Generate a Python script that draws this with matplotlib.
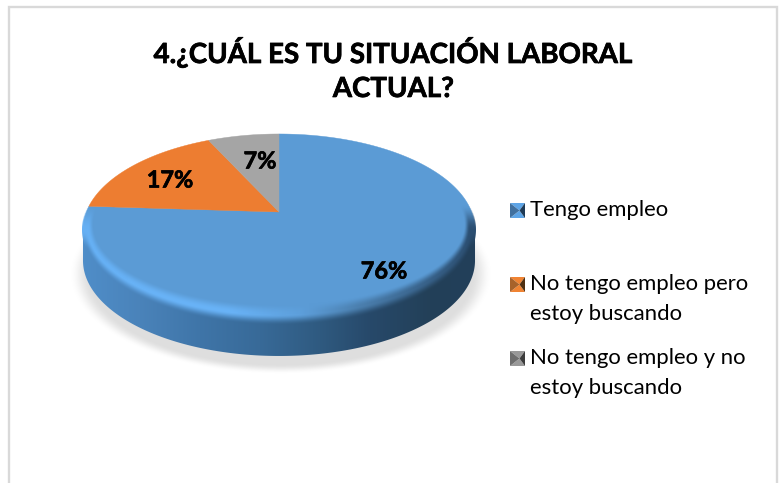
import numpy as np
import matplotlib
matplotlib.use("Agg")
import matplotlib.pyplot as plt
import matplotlib.patheffects as pe
from matplotlib.colors import to_rgb
from matplotlib.patches import Polygon

# ---- data ----
title_lines = ["4.¿CUÁL ES TU SITUACIÓN LABORAL", "ACTUAL?"]
categories = [["Tengo empleo"],
              ["No tengo empleo pero", "estoy buscando"],
              ["No tengo empleo y no", "estoy buscando"]]
values = [76, 17, 7]
face_colors = ["#5b9bd5", "#ed7d31", "#a5a5a5"]
marker_shades = [("#5da4e6", "#40709f", "#1e3a56"),
                 ("#f08332", "#a8622a", "#4f2f10"),
                 ("#999999", "#6e6e6e", "#3c3c3c")]

# ---- layout (pixels) ----
W, H = 781, 483
CX, APEX_Y = 279.0, 212.0
A, B, K = 192.7, 92.3, 0.183
DEPTH = 31
FONT = ["Lato", "DejaVu Sans"]
PT = 0.72
THICK = [pe.withStroke(linewidth=0.5, foreground="black")]

fig = plt.figure(figsize=(W / 100, H / 100), dpi=100)
ax = fig.add_axes([0, 0, 1, 1])
ax.set_xlim(0, W)
ax.set_ylim(H, 0)
ax.axis("off")

XX, YY = np.meshgrid(np.arange(W) + .5, np.arange(H) + .5)


def project(theta):
    """Perspective view of the unit circle; theta runs clockwise from north."""
    x, y = np.sin(theta), np.cos(theta)
    d = 1 + K * y
    return CX + A * x / d, APEX_Y - B * y / d


def smooth(t):
    t = np.clip(t, 0, 1)
    return t * t * (3 - 2 * t)


def ramp(xs, colors):
    out = np.zeros(XX.shape + (3,))
    for i in range(3):
        out[..., i] = np.interp(XX, xs, [to_rgb(c)[i] for c in colors])
    return out


def show(rgba, clip=None, zorder=2):
    im = ax.imshow(rgba, extent=(0, W, H, 0), interpolation="bilinear", zorder=zorder, aspect="auto")
    if clip is not None:
        im.set_clip_path(clip)
    ax.set_xlim(0, W)
    ax.set_ylim(H, 0)
    return im


# frame (open at the bottom)
ax.plot([8.5, 8.5, 776.5, 776.5], [H, 7, 7, H], color="#d9d9d9", lw=1.7, zorder=1,
        solid_joinstyle="miter")

# soft shadow
r = np.hypot((XX - 281) / 207, (YY - 274) / 98)
shadow = np.zeros((H, W, 4))
shadow[..., :3] = 0.83
shadow[..., 3] = 0.75 * (1 - smooth((r - 0.92) / 0.10))
show(shadow)

# side wall
t_all = np.linspace(0, 2 * np.pi, 721)
ox, oy = project(t_all)
cy_face = (oy.min() + oy.max()) / 2
rx_face = (ox.max() - ox.min()) / 2
ry_face = (oy.max() - oy.min()) / 2
arc = np.linspace(0, np.pi, 361)
top_x = CX + rx_face * np.cos(arc)
bot_y = cy_face + DEPTH + ry_face * np.sin(arc)
up_y = cy_face + ry_face * np.sin(arc)
side_poly = np.column_stack([np.r_[top_x, top_x[::-1]], np.r_[bot_y, up_y[::-1]]])
side_patch = Polygon(side_poly, closed=True, transform=ax.transData)

stops_x = [85, 140, 200, 260, 320, 370, 430, 473]
stops_c = ["#4f8dc8", "#4a83ba", "#3f75a8", "#386a98", "#2f5a80", "#27496a", "#234058", "#223f5a"]
side_rgb = ramp(stops_x, stops_c)
side = np.ones((H, W, 4))
side[..., :3] = side_rgb
show(side, side_patch)

# top face: one slice per value
fractions = np.cumsum([0] + values) / sum(values)
face_xy = np.column_stack(project(t_all))
for v, c, f0, f1 in zip(values, face_colors, fractions[:-1], fractions[1:]):
    th = np.linspace(f0, f1, 200) * 2 * np.pi
    px, py = project(th)
    ax.fill(np.r_[CX, px], np.r_[APEX_Y, py], color=c, lw=0.3, zorder=3)

# bevel along the front rim of the face: rises to a highlight, then melts into the wall
r_in = np.hypot((XX - CX) / (rx_face - 11), (YY - (cy_face - 5)) / (ry_face - 16))
r_out = np.hypot((XX - CX) / rx_face, (YY - cy_face) / ry_face)
t = np.clip((r_in - 1) / np.maximum(r_in - r_out, 1e-3), 0, 1)
t[r_in <= 1] = 0
hi = ramp([85, 150, 230, 300, 360, 470],
          ["#66b0f4", "#69b3f7", "#69b3f7", "#5ea0dc", "#4b7fae", "#2c4f72"])
mix = smooth((t - 0.55) / 0.45)[..., None] * smooth((YY - cy_face) / 20)[..., None]
bevel = np.zeros((H, W, 4))
bevel[..., :3] = (1 - mix) * hi + mix * side_rgb
bevel[..., 3] = smooth(t / 0.55) * smooth((YY - (cy_face - 25)) / 25)
# the clip reaches a little past the rim so no pale seam is left against the wall
rim_xy = np.column_stack([CX + (face_xy[:, 0] - CX) * 1.005,
                          cy_face + (face_xy[:, 1] - cy_face) * 1.012])
bevel_patch = Polygon(rim_xy, closed=True, transform=ax.transData)
show(bevel, bevel_patch, zorder=4)

# value labels
label_pos = [(384, 272), (170, 181), (260, 162)]
for v, (x, y) in zip(values, label_pos):
    ax.text(x, y, f"{v}%", ha="center", va="center", fontsize=23.5 * PT, weight="bold",
            family=FONT, color="black", zorder=6, path_effects=THICK)

# title
for line, y in zip(title_lines, (52, 89)):
    ax.text(393.5, y, line, ha="center", va="center", fontsize=27.7 * PT, weight="bold",
            family=FONT, color="black", zorder=6, path_effects=THICK)

# legend
legend_y = [210.5, 284.5, 358.5]
for lines, y0, (mid, light, dark) in zip(categories, legend_y, marker_shades):
    x0, x1, y_a, y_b = 510, 525, y0 - 7.5, y0 + 7.5
    xm, ym = 519.5, y0
    ax.fill([x0, x1, xm], [y_a, y_a, ym], color=mid, lw=0, zorder=5)
    ax.fill([x0, x1, xm], [y_b, y_b, ym], color=mid, lw=0, zorder=5)
    ax.fill([x0, x0, xm], [y_a, y_b, ym], color=light, lw=0, zorder=5)
    ax.fill([x1, x1, xm], [y_a, y_b, ym], color=dark, lw=0, zorder=5)
    for j, line in enumerate(lines):
        ax.text(530, y0 + j * 29, line, ha="left", va="center", fontsize=22.2 * PT,
                family=FONT, color="black", zorder=6)

fig.savefig("out.png", dpi=100)
